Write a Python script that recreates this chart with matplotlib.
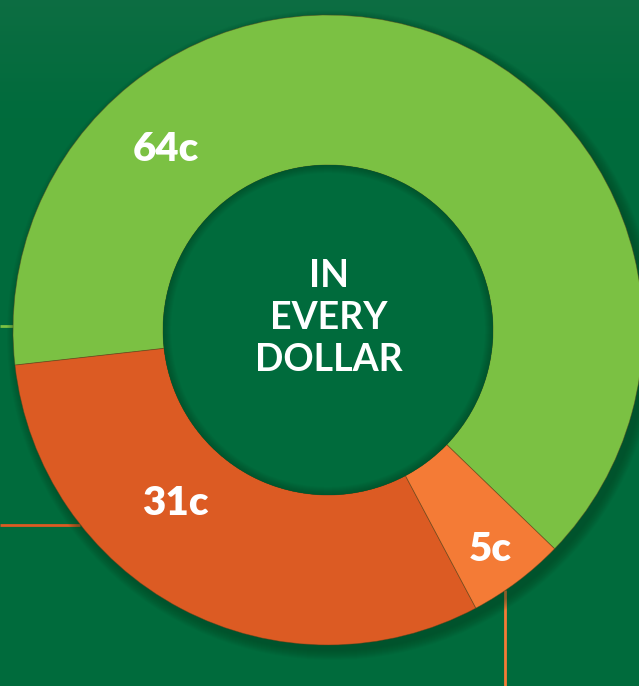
import matplotlib
matplotlib.use("Agg")
import matplotlib.pyplot as plt
import numpy as np
from matplotlib.patches import Circle, Wedge

# Data
labels = ["64c", "31c", "5c"]
values = [64, 31, 5]
colors = ["#7BC143", "#DC5B23", "#F47B36"]
center_text = "IN\nEVERY\nDOLLAR"

BG = "#006B3C"
W, H = 639, 686
fig = plt.figure(figsize=(W / 100, H / 100), dpi=100)
fig.patch.set_facecolor(BG)
ax = fig.add_axes([0, 0, 1, 1])
ax.set_facecolor(BG)

# subtle lighter top band (background texture hint)
grad = np.linspace(1, 0, 200).reshape(-1, 1)
top = np.array([0.05, 0.43, 0.26])
bot = np.array([0.0, 0.42, 0.235])
img = top * grad[..., None] + bot * (1 - grad[..., None])
img = np.repeat(img, 2, axis=1)
ax.imshow(img, extent=[0, W, H - 120, H], aspect="auto", zorder=0)

cx, cy = 328, H - 330
R, w = 315, 150

# leader lines
ax.plot([0, 16], [H - 326, H - 326], color="#7BC143", lw=2, zorder=1, solid_capstyle="butt")
ax.plot([0, 80], [H - 525, H - 525], color="#DC5B23", lw=2, zorder=1, solid_capstyle="butt")
ax.plot([505, 505], [H - 590, 0], color="#F47B36", lw=2, zorder=1, solid_capstyle="butt")

# drop shadow
for k in range(10):
    ax.add_patch(Circle((cx + 4, cy - 5), R + 10 - k, color="#003a1e", alpha=0.05, lw=0, zorder=1.5))

wedges, _ = ax.pie(values, colors=colors, startangle=-44, counterclock=True,
                   center=(cx, cy), radius=R,
                   wedgeprops=dict(width=w, edgecolor=(0.35, 0.25, 0.1, 0.5), linewidth=0.6),
                   frame=True)
for wdg in wedges:
    wdg.set_zorder(2)

# inner shadow in the hole
r_in = R - w
ax.add_patch(Circle((cx, cy), r_in, color=BG, lw=0, zorder=2.5))
for k in range(8):
    ax.add_patch(Wedge((cx, cy), r_in, 0, 360, width=8 - k, color="#003a1e", alpha=0.06, lw=0, zorder=2.6))

# labels
label_angles = [132, 228.5, -53.6]
label_r = [243, 231, 273]
for lab, a, r in zip(labels, label_angles, label_r):
    t = np.deg2rad(a)
    ax.text(cx + r * np.cos(t), cy + r * np.sin(t), lab, color="white",
            fontsize=29, fontweight="heavy", family="Lato", ha="center", va="center", zorder=3)

ax.text(cx + 1, cy + 12, center_text, color="white", fontsize=27, fontweight="bold",
        family="Lato", ha="center", va="center", linespacing=1.28, zorder=3)

ax.set_xlim(0, W)
ax.set_ylim(0, H)
ax.set_aspect("equal")
ax.axis("off")
fig.savefig("out.png", dpi=100, facecolor=BG)
